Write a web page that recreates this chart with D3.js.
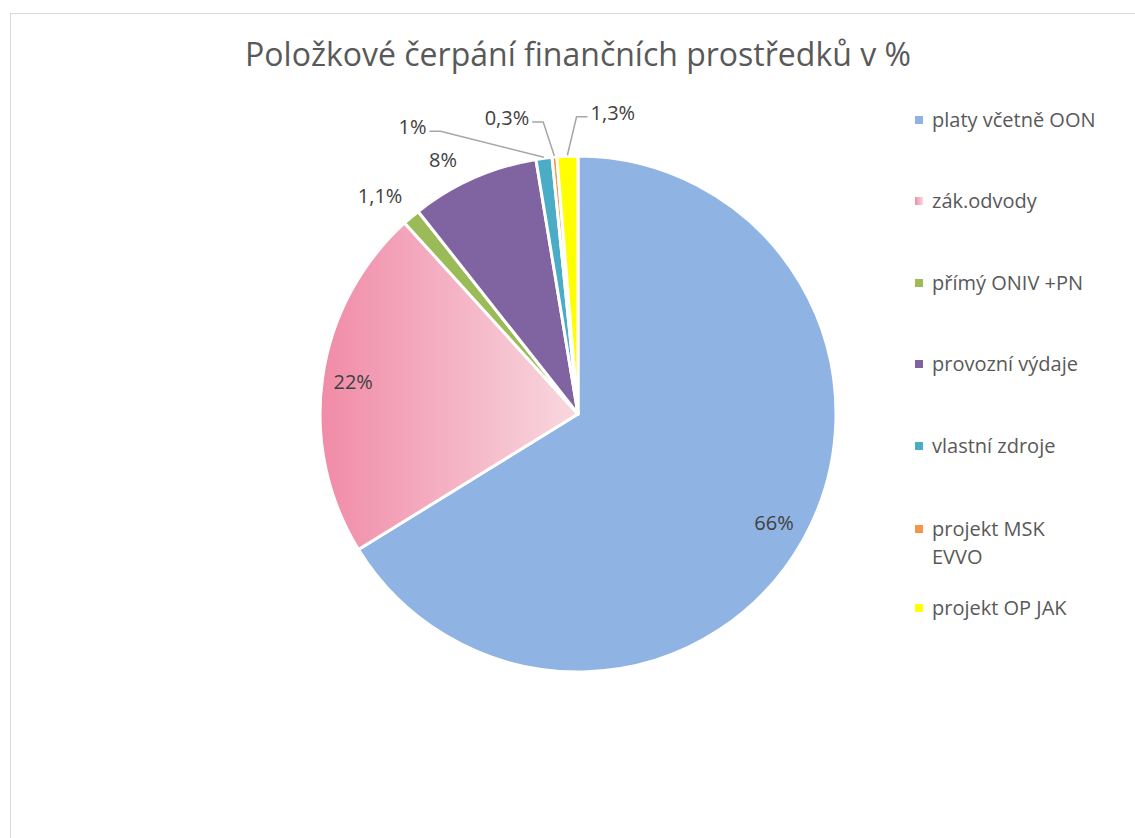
<!DOCTYPE html>
<html>
<head>
<meta charset="utf-8">
<script src="https://cdn.jsdelivr.net/npm/d3@7"></script>
<style>
  body { margin: 0; background: #fff; }
  svg { display: block; }
  text { font-family: "Open Sans", "Noto Sans", sans-serif; }
</style>
</head>
<body>
<svg id="chart" width="1135" height="838"></svg>
<script>
// data
var categories = ["platy včetně OON", "zák.odvody", "přímý ONIV +PN", "provozní výdaje",
                  "vlastní zdroje", "projekt MSK EVVO", "projekt OP JAK"];
var values = [66, 22, 1.1, 8, 1, 0.3, 1.3];
var valueLabels = ["66%", "22%", "1,1%", "8%", "1%", "0,3%", "1,3%"];
var colors = ["#8FB3E2", "url(#pinkGrad)", "#9BBB59", "#8064A2", "#4BACC6", "#F79646", "#FFFF00"];

// label placement (angle in degrees, radius as share of pie radius, leader line side)
var labelAngle = [null, null, 317.7, 332, 330, 346.5, 6.6];
var labelRadius = [0.87, 0.88, 1.14, 1.115, 1.283, 1.18, 1.175];
var leader = [0, 0, 0, 0, 1, 1, -1];   // 1: line leaves to the right of label, -1: to the left

var svg = d3.select("#chart");
var cx = 578, cy = 414, R = 258;

var defs = svg.append("defs");
var grad = defs.append("linearGradient")
    .attr("id", "pinkGrad")
    .attr("gradientUnits", "objectBoundingBox")
    .attr("x1", 0).attr("y1", 0).attr("x2", 1).attr("y2", 0);
grad.append("stop").attr("offset", "0%").attr("stop-color", "#F18BA8");
grad.append("stop").attr("offset", "100%").attr("stop-color", "#F8D8E0");

// chart frame
svg.append("rect")
    .attr("x", 10.5).attr("y", 13.5)
    .attr("width", 1140).attr("height", 840)
    .attr("fill", "none")
    .attr("stroke", "#D9D9D9")
    .attr("stroke-width", 1);

// title
svg.append("text")
    .attr("x", 578).attr("y", 66)
    .attr("text-anchor", "middle")
    .style("font-size", "32px")
    .style("fill", "#595959")
    .text("Položkové čerpání finančních prostředků v %");

var pie = d3.pie().sort(null).value(function(d) { return d; });
var arcs = pie(values);
var arc = d3.arc().innerRadius(0).outerRadius(R);

var g = svg.append("g").attr("transform", "translate(" + cx + "," + cy + ")");

g.selectAll("path.slice")
    .data(arcs)
    .enter().append("path")
    .attr("class", "slice")
    .attr("d", arc)
    .attr("fill", function(d, i) { return colors[i]; })
    .attr("stroke", "#fff")
    .attr("stroke-width", 3)
    .attr("stroke-linejoin", "round");

function polar(a, r) {
    return [Math.sin(a) * r, -Math.cos(a) * r];
}

// data labels
arcs.forEach(function(d, i) {
    var mid = (d.startAngle + d.endAngle) / 2;
    var a = labelAngle[i] === null ? mid : labelAngle[i] * Math.PI / 180;
    var p = polar(a, R * labelRadius[i]);

    var t = g.append("text")
        .attr("x", p[0]).attr("y", p[1])
        .attr("dy", "0.35em")
        .attr("text-anchor", "middle")
        .style("font-size", "20px")
        .style("fill", "#404040")
        .text(valueLabels[i]);

    if (leader[i] !== 0) {
        var w = t.node().getComputedTextLength();
        var edge = p[0] + leader[i] * (w / 2 + 3);
        var ly = p[1] + 4;
        var e = polar(mid, R + 1);
        g.append("polyline")
            .attr("points", [[edge, ly], [edge + leader[i] * 11, ly], e].join(" "))
            .attr("fill", "none")
            .attr("stroke", "#A6A6A6")
            .attr("stroke-width", 1.5);
    }
});

// legend
var legendY = [120, 201, 283, 364, 446, 529, 608];
var legend = svg.append("g").attr("class", "legend");
categories.forEach(function(c, i) {
    var item = legend.append("g").attr("transform", "translate(915," + legendY[i] + ")");
    item.append("rect")
        .attr("x", 0).attr("y", -4)
        .attr("width", 8).attr("height", 8)
        .attr("fill", colors[i]);
    var txt = item.append("text")
        .attr("x", 17).attr("y", 0)
        .attr("dy", "0.35em")
        .style("font-size", "20px")
        .style("fill", "#595959");
    if (c === "projekt MSK EVVO") {
        txt.append("tspan").attr("x", 17).text("projekt MSK");
        txt.append("tspan").attr("x", 17).attr("dy", "1.4em").text("EVVO");
    } else {
        txt.text(c);
    }
});
</script>
</body>
</html>
